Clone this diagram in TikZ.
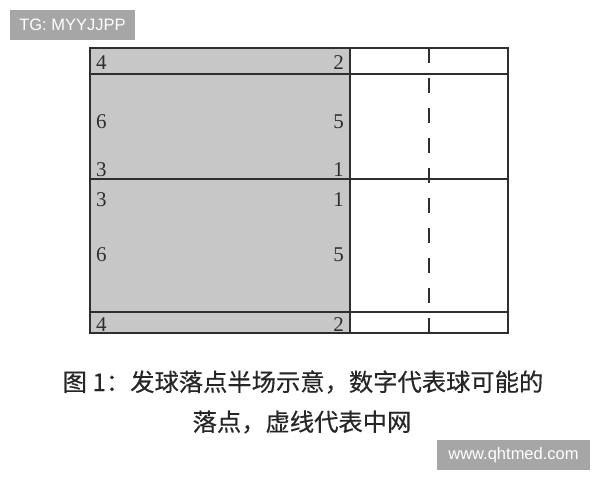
\documentclass[tikz,border=0pt]{standalone}
\usepackage{fontspec}
\setmainfont{Liberation Serif}
\newfontfamily\cjk[FakeBold=0.4]{Noto Sans CJK SC}
\newfontfamily\wmfont{Liberation Sans}
\begin{document}
\begin{tikzpicture}[x=1pt,y=-1pt,
  court/.style={draw=black!82,line width=1.8pt},
  num/.style={inner sep=0pt,font=\fontsize{21}{21}\selectfont,text=black!82},
  wmbox/.style={fill=black!35,text=white,inner sep=0pt,font=\wmfont\fontsize{16.5}{16.5}\selectfont},
  caption/.style={inner sep=0pt,font=\cjk\fontsize{24.3}{24.3}\selectfont,text=black!85}]
\useasboundingbox (0,0) rectangle (600,480);
\fill[white] (0,0) rectangle (600,480);
% gray half court
\fill[black!22] (90,48) rectangle (350,333);
% net (dashed)
\draw[line width=1.8pt,black!82,dash pattern=on 15pt off 15pt] (429,48) -- (429,333);
% court lines
\draw[court] (90,48) rectangle (508,333);
\draw[court] (90,74) -- (508,74);
\draw[court] (90,179) -- (508,179);
\draw[court] (90,312) -- (508,312);
\draw[court] (350,48) -- (350,333);
% numbers
\node[num,anchor=base west] (a4) at (96,69) {4};
\node[num,anchor=base east] (a2) at (344,69) {2};
\node[num,anchor=base west] (a6) at (96,128) {6};
\node[num,anchor=base east] (a5) at (344,128) {5};
\node[num,anchor=base west] (a3) at (96,176) {3};
\node[num,anchor=base east] (a1) at (344,176) {1};
\node[num,anchor=base west] (b3) at (96,206) {3};
\node[num,anchor=base east] (b1) at (344,206) {1};
\node[num,anchor=base west] (b6) at (96,261) {6};
\node[num,anchor=base east] (b5) at (344,261) {5};
\node[num,anchor=base west] (b4) at (96,331) {4};
\node[num,anchor=base east] (b2) at (344,331) {2};
% caption
\node[caption] (cap1) at (303,382) {图 1：发球落点半场示意，数字代表球可能的};
\node[caption] (cap2) at (302,422) {落点，虚线代表中网};
% watermark boxes
\node[wmbox,minimum width=125pt,minimum height=30pt] (tg) at (72.5,25) {TG: MYYJJPP};
\node[wmbox,minimum width=153pt,minimum height=30pt] (www) at (513.5,455) {www.qhtmed.com};
\end{tikzpicture}
\end{document}
